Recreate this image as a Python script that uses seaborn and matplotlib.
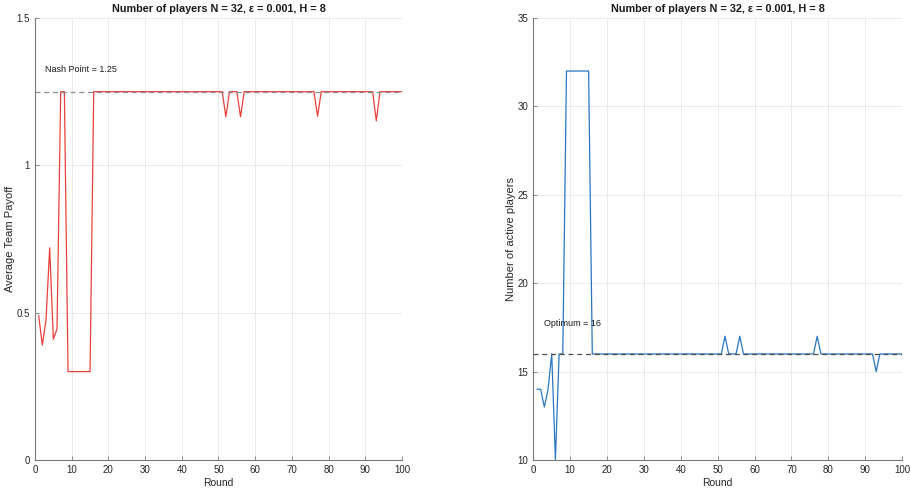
import matplotlib
matplotlib.use("Agg")
import matplotlib.pyplot as plt
import seaborn as sns
import pandas as pd

rounds = list(range(1, 101))

avg_team_payoff = [
    0.49, 0.39, 0.475, 0.72, 0.41, 0.445, 1.25, 1.25, 0.30, 0.30,
    0.30, 0.30, 0.30, 0.30, 0.30, 1.25, 1.25, 1.25, 1.25, 1.25,
    1.25, 1.25, 1.25, 1.25, 1.25, 1.25, 1.25, 1.25, 1.25, 1.25,
    1.25, 1.25, 1.25, 1.25, 1.25, 1.25, 1.25, 1.25, 1.25, 1.25,
    1.25, 1.25, 1.25, 1.25, 1.25, 1.25, 1.25, 1.25, 1.25, 1.25,
    1.25, 1.165, 1.25, 1.25, 1.25, 1.165, 1.25, 1.25, 1.25, 1.25,
    1.25, 1.25, 1.25, 1.25, 1.25, 1.25, 1.25, 1.25, 1.25, 1.25,
    1.25, 1.25, 1.25, 1.25, 1.25, 1.25, 1.167, 1.25, 1.25, 1.25,
    1.25, 1.25, 1.25, 1.25, 1.25, 1.25, 1.25, 1.25, 1.25, 1.25,
    1.25, 1.25, 1.151, 1.25, 1.25, 1.25, 1.25, 1.25, 1.25, 1.25,
]

active_players = [
    14, 14, 13, 14, 16, 10, 16, 16, 32, 32,
    32, 32, 32, 32, 32, 16, 16, 16, 16, 16,
    16, 16, 16, 16, 16, 16, 16, 16, 16, 16,
    16, 16, 16, 16, 16, 16, 16, 16, 16, 16,
    16, 16, 16, 16, 16, 16, 16, 16, 16, 16,
    16, 17, 16, 16, 16, 17, 16, 16, 16, 16,
    16, 16, 16, 16, 16, 16, 16, 16, 16, 16,
    16, 16, 16, 16, 16, 16, 17, 16, 16, 16,
    16, 16, 16, 16, 16, 16, 16, 16, 16, 16,
    16, 16, 15, 16, 16, 16, 16, 16, 16, 16,
]

nash_point = 1.25
optimum = 16
title_text = "Number of players N = 32, \u03b5 = 0.001, H = 8"
x_ticks = [0, 10, 20, 30, 40, 50, 60, 70, 80, 90, 100]
left_yticks = [0, 0.5, 1, 1.5]
left_yticklabels = ["0", "0.5", "1", "1.5"]
right_yticks = [10, 15, 20, 25, 30, 35]

sns.set_theme(style="whitegrid")
plt.rcParams["font.family"] = ["Liberation Sans", "DejaVu Sans"]

df = pd.DataFrame({"Round": rounds, "payoff": avg_team_payoff, "players": active_players})

fig = plt.figure(figsize=(9.12, 4.92), dpi=100)
axL = fig.add_axes([35 / 912, 32 / 492, 367 / 912, 442 / 492])
axR = fig.add_axes([533.3 / 912, 32 / 492, 368.7 / 912, 442 / 492])

sns.lineplot(data=df, x="Round", y="payoff", ax=axL, color="#E8403A", linewidth=0.9)
axL.plot([0, 100], [nash_point, nash_point], linestyle=(0, (4, 3)), color="#8c8c8c", linewidth=0.9)
axL.text(2.7, 1.31, f"Nash Point = {nash_point}", fontsize=6.5, color="#1a1a1a", va="bottom")

sns.lineplot(data=df, x="Round", y="players", ax=axR, color="#2A77C0", linewidth=0.9)
axR.plot([0, 100], [optimum, optimum], linestyle=(0, (4, 3)), color="#4d4d4d", linewidth=0.9)
axR.text(2.9, 17.45, f"Optimum = {optimum}", fontsize=6.5, color="#1a1a1a", va="bottom")

for ax, yt, ylab in [(axL, left_yticks, "Average Team Payoff"), (axR, right_yticks, "Number of active players")]:
    ax.set_xlim(0, 100)
    ax.set_xticks(x_ticks)
    ax.set_yticks(yt)
    ax.set_xlabel("Round", fontsize=7.5, color="#262626", labelpad=2)
    ax.set_ylabel(ylab, fontsize=8, color="#262626", labelpad=1)
    ax.set_title(title_text, fontsize=7.8, fontweight="bold", color="#1a1a1a", pad=4)
    ax.grid(True, color="#ebebeb", linewidth=0.7)
    ax.set_facecolor("white")
    for s in ["top", "right"]:
        ax.spines[s].set_visible(False)
    for s in ["left", "bottom"]:
        ax.spines[s].set_visible(True)
        ax.spines[s].set_color("#7a7a7a")
        ax.spines[s].set_linewidth(0.8)
    ax.tick_params(direction="in", length=3, width=0.6, color="#7a7a7a",
                   labelsize=7, labelcolor="#262626", pad=3.5,
                   left=True, bottom=True)

axL.set_ylim(0, 1.5)
axL.set_yticklabels(left_yticklabels)
axR.set_ylim(10, 35)

fig.savefig("out.png", dpi=100, facecolor="white")
